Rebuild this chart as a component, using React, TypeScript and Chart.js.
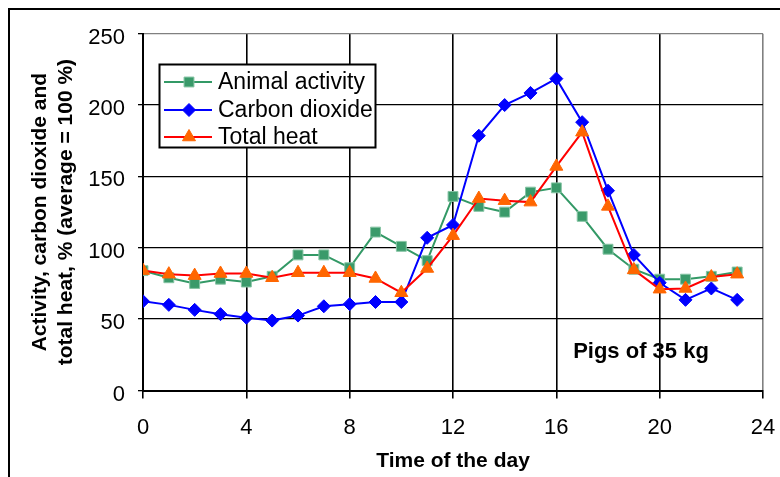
import React, { useEffect, useRef } from 'react';
import { Chart, registerables } from 'chart.js';
import { drawPoint } from 'chart.js/helpers';

Chart.register(...registerables);

const hours = [0, 1, 2, 3, 4, 5, 6, 7, 8, 9, 10, 11, 12, 13, 14, 15, 16, 17, 18, 19, 20, 21, 22, 23];
const animalActivity = [84, 79, 75, 78, 76, 80, 95, 95, 86, 111, 101, 91, 136, 129, 125, 139, 142, 122, 99, 85, 78, 78, 80, 83];
const carbonDioxide = [62.5, 60, 56.5, 53.5, 51, 49, 52.5, 59, 60.5, 62, 62, 107, 116, 178.5, 200, 208.5, 218.5, 188, 140, 95, 75.5, 63.5, 71.5, 63.5];
const totalHeat = [84, 81.5, 80.5, 82, 82, 79, 82.5, 82.5, 82.5, 78.5, 68.5, 85.5, 108.5, 134.5, 133, 132, 157, 181, 129, 84.5, 71, 71.5, 79.5, 81.5];

const xTicks = [0, 4, 8, 12, 16, 20, 24];
const yTicks = [0, 50, 100, 150, 200, 250];

const seriesNames = ['Animal activity', 'Carbon dioxide', 'Total heat'];
const noteText = 'Pigs of 35 kg';
const xTitle = 'Time of the day';
const yTitle = ['Activity, carbon dioxide and', 'total heat, % (average = 100 %)'];

const FONT = "'Liberation Sans', Arial, Helvetica, sans-serif";

const GREEN = '#339966';
const BLUE = '#0000ff';
const RED = '#ff0000';
const ORANGE = '#ff6600';

const legendItems = [
  { label: seriesNames[0], line: GREEN, fill: '#3a9a6a', stroke: '#86c4a4', style: 'rect', radius: 7 },
  { label: seriesNames[1], line: BLUE, fill: BLUE, stroke: BLUE, style: 'rectRot', radius: 6.5 },
  { label: seriesNames[2], line: RED, fill: ORANGE, stroke: ORANGE, style: 'triangle', radius: 7.5 },
];

const toPoints = (vals: number[]) => hours.map((h, i) => ({ x: h, y: vals[i] }));

const decorPlugin = {
  id: 'decor',
  beforeDraw(chart: any) {
    const ctx = chart.ctx;
    ctx.save();
    ctx.fillStyle = '#ffffff';
    ctx.fillRect(0, 0, chart.width, chart.height);
    ctx.fillStyle = '#000000';
    ctx.fillRect(8, 8, chart.width - 8, 2);
    ctx.fillRect(8, 8, 2, chart.height - 8);
    ctx.restore();
  },
  afterDraw(chart: any) {
    const ctx = chart.ctx;
    const xs = chart.scales.x;
    const ys = chart.scales.y;
    ctx.save();
    const bx = 159.5, by = 64.5, bw = 216, bh = 83;
    ctx.fillStyle = '#ffffff';
    ctx.fillRect(bx, by, bw, bh);
    ctx.strokeStyle = '#000000';
    ctx.lineWidth = 2;
    ctx.strokeRect(bx, by, bw, bh);
    const rows = [82, 110, 137];
    legendItems.forEach((it, i) => {
      const y = rows[i];
      ctx.strokeStyle = it.line;
      ctx.lineWidth = 2;
      ctx.beginPath();
      ctx.moveTo(164, y);
      ctx.lineTo(212, y);
      ctx.stroke();
      ctx.fillStyle = it.fill;
      ctx.strokeStyle = it.stroke;
      ctx.lineWidth = 1;
      drawPoint(ctx, { pointStyle: it.style, radius: it.radius, borderWidth: 1, rotation: 0 } as any, 189, y);
      ctx.fillStyle = '#000000';
      ctx.font = `23px ${FONT}`;
      ctx.textAlign = 'left';
      ctx.textBaseline = 'middle';
      ctx.fillText(it.label, 218, y + 1);
    });
    ctx.fillStyle = '#000000';
    ctx.font = `bold 22px ${FONT}`;
    ctx.textAlign = 'left';
    ctx.textBaseline = 'alphabetic';
    ctx.fillText(noteText, xs.getPixelForValue(16.65), ys.getPixelForValue(22.75));
    ctx.restore();
  },
};

export default function App() {
  const ref = useRef<HTMLCanvasElement | null>(null);
  useEffect(() => {
    if (!ref.current) return;
    const chart = new Chart(ref.current, {
      type: 'line',
      data: {
        datasets: [
          {
            label: seriesNames[0],
            data: toPoints(animalActivity),
            borderColor: GREEN,
            borderWidth: 2,
            pointStyle: 'rect',
            pointRadius: 7,
            pointBackgroundColor: '#3a9a6a',
            pointBorderColor: '#86c4a4',
            pointBorderWidth: 1,
            tension: 0,
            order: 2,
          },
          {
            label: seriesNames[1],
            data: toPoints(carbonDioxide),
            borderColor: BLUE,
            borderWidth: 2,
            pointStyle: 'rectRot',
            pointRadius: 6.5,
            pointBackgroundColor: BLUE,
            pointBorderColor: BLUE,
            pointBorderWidth: 1,
            tension: 0,
            order: 1,
          },
          {
            label: seriesNames[2],
            data: toPoints(totalHeat),
            borderColor: RED,
            borderWidth: 2,
            pointStyle: 'triangle',
            pointRadius: 7.5,
            pointBackgroundColor: ORANGE,
            pointBorderColor: ORANGE,
            pointBorderWidth: 1,
            tension: 0,
            order: 0,
          },
        ],
      },
      options: {
        responsive: false,
        animation: false,
        devicePixelRatio: 1,
        layout: { padding: { left: 0, top: 33.7, right: 17, bottom: 0 } },
        plugins: {
          legend: { display: false },
          tooltip: { enabled: false },
        },
        scales: {
          x: {
            type: 'linear',
            min: 0,
            max: 24,
            afterFit: (s: any) => { s.height = 86.5; s.paddingLeft = 0; s.paddingRight = 0; },
            afterBuildTicks: (s: any) => { s.ticks = xTicks.map((v) => ({ value: v })); },
            ticks: {
              stepSize: 4,
              color: '#000',
              font: { family: FONT, size: 22 },
              padding: 16,
              maxRotation: 0,
            },
            grid: {
              color: (c: any) => (c.tick && c.tick.value === 24 ? '#808080' : '#000000'),
              lineWidth: 1.6,
              tickLength: 8,
              tickColor: '#000000',
              tickWidth: 1.6,
            },
            border: { color: '#000000', width: 2 },
            title: {
              display: true,
              text: xTitle,
              color: '#000',
              font: { family: FONT, size: 21, weight: 'bold', lineHeight: 1.2 },
              padding: { top: 0, bottom: 3.4 },
            },
          },
          y: {
            min: 0,
            max: 250,
            afterFit: (s: any) => { s.width = 143; s.paddingTop = 0; s.paddingBottom = 0; },
            afterBuildTicks: (s: any) => { s.ticks = yTicks.map((v) => ({ value: v })); },
            ticks: {
              stepSize: 50,
              color: '#000',
              font: { family: FONT, size: 22 },
              padding: 13,
              labelOffset: 4,
            },
            grid: {
              color: (c: any) => (c.tick && c.tick.value === 250 ? '#808080' : '#000000'),
              lineWidth: 1.3,
              tickLength: 5,
              tickColor: '#000000',
              tickWidth: 1.3,
            },
            border: { color: '#000000', width: 2 },
            title: {
              display: true,
              text: yTitle,
              color: '#000',
              font: { family: FONT, size: 21, weight: 'bold', lineHeight: 1.24 },
              padding: { top: 27.5, bottom: 0 },
            },
          },
        },
      },
      plugins: [decorPlugin],
    } as any);
    return () => chart.destroy();
  }, []);
  return (
    <div style={{ position: 'fixed', left: 0, top: 0, width: 780, height: 477, background: '#fff' }}>
      <canvas ref={ref} width={780} height={477} style={{ display: 'block', width: 780, height: 477 }} />
    </div>
  );
}
